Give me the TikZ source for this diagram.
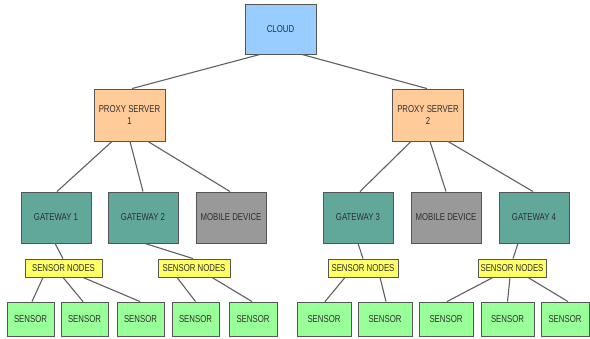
\documentclass[tikz,border=0pt]{standalone}
\usepackage{fontspec}
\newfontfamily\lblfont[FakeStretch=0.78]{Liberation Sans}
\definecolor{cloudc}{HTML}{99CCFF}
\definecolor{proxyc}{HTML}{FFCC99}
\definecolor{gatec}{HTML}{62A89A}
\definecolor{mobilec}{HTML}{999999}
\definecolor{snodec}{HTML}{FFFF66}
\definecolor{sensorc}{HTML}{99FF99}
\definecolor{edgec}{HTML}{555555}
\definecolor{linkc}{HTML}{606060}
\definecolor{txtc}{HTML}{2E2E2E}
\tikzset{
  box/.style={draw=edgec, line width=0.9pt, inner sep=0pt, align=center,
    font=\lblfont\fontsize{10}{11.5}\selectfont, text=txtc},
  cloudbox/.style={box, fill=cloudc, minimum width=71pt, minimum height=50pt},
  proxybox/.style={box, fill=proxyc, minimum width=71pt, minimum height=52pt},
  gatebox/.style={box, fill=gatec, minimum width=70pt, minimum height=51pt},
  mobilebox/.style={box, fill=mobilec, minimum width=70pt, minimum height=51pt},
  snodebox/.style={box, fill=snodec, minimum height=18pt},
  sensorbox/.style={box, fill=sensorc, minimum height=34pt},
  link/.style={draw=linkc, line width=1.1pt},
}
\begin{document}
\begin{tikzpicture}[x=1pt, y=-1pt]
\useasboundingbox (0,0) rectangle (590,338);
% top level
\node[cloudbox] (cloud) at (280.5,29) {CLOUD};
% proxy servers
\node[proxybox] (p1) at (129.5,115) {PROXY SERVER\\1};
\node[proxybox] (p2) at (428,115) {PROXY SERVER\\2};
% gateways and mobile devices
\node[gatebox] (g1) at (56,217.5) {GATEWAY 1};
\node[gatebox] (g2) at (143,217.5) {GATEWAY 2};
\node[mobilebox] (m1) at (231,217.5) {MOBILE DEVICE};
\node[gatebox] (g3) at (358,217.5) {GATEWAY 3};
\node[mobilebox] (m2) at (446,217.5) {MOBILE DEVICE};
\node[gatebox] (g4) at (534,217.5) {GATEWAY 4};
% sensor node groups
\node[snodebox, minimum width=77pt] (n1) at (63.5,268) {SENSOR NODES};
\node[snodebox, minimum width=72pt] (n2) at (194,268) {SENSOR NODES};
\node[snodebox, minimum width=70pt] (n3) at (363,268) {SENSOR NODES};
\node[snodebox, minimum width=68pt] (n4) at (512,268) {SENSOR NODES};
% sensors
\node[sensorbox, minimum width=47pt] (s1) at (30.5,319) {SENSOR};
\node[sensorbox, minimum width=47pt] (s2) at (84.5,319) {SENSOR};
\node[sensorbox, minimum width=47pt] (s3) at (140.5,319) {SENSOR};
\node[sensorbox, minimum width=47pt] (s4) at (195.5,319) {SENSOR};
\node[sensorbox, minimum width=48pt] (s5) at (253,319) {SENSOR};
\node[sensorbox, minimum width=54pt] (s6) at (324,319) {SENSOR};
\node[sensorbox, minimum width=54pt] (s7) at (385,319) {SENSOR};
\node[sensorbox, minimum width=54pt] (s8) at (446,319) {SENSOR};
\node[sensorbox, minimum width=53pt] (s9) at (507.5,319) {SENSOR};
\node[sensorbox, minimum width=48pt] (s10) at (565,319) {SENSOR};
% connectors
\draw[link] ([xshift=-20.5pt]cloud.south) -- ([xshift=2.5pt]p1.north);
\draw[link] ([xshift=21.5pt]cloud.south) -- ([xshift=-1pt]p2.north);
\draw[link] ([xshift=-17.5pt]p1.south) -- ([xshift=1pt]g1.north);
\draw[link] ([xshift=0.5pt]p1.south) -- (g2.north);
\draw[link] ([xshift=18.5pt]p1.south) -- ([xshift=-1pt]m1.north);
\draw[link] ([xshift=-17pt]p2.south) -- ([xshift=2pt]g3.north);
\draw[link] ([xshift=2pt]p2.south) -- (m2.north);
\draw[link] ([xshift=20pt]p2.south) -- ([xshift=-1pt]g4.north);
\draw[link] ([xshift=-1pt]g1.south) -- ([xshift=-0.5pt]n1.north);
\draw[link] ([xshift=2pt]g2.south) -- ([xshift=-1pt]n2.north);
\draw[link] (g3.south) -- (n3.north);
\draw[link] ([xshift=-16pt]g4.south) -- ([xshift=1pt]n4.north);
\draw[link] ([xshift=-20.5pt]n1.south) -- ([xshift=1.5pt]s1.north);
\draw[link] ([xshift=-0.5pt]n1.south) -- ([xshift=-1.5pt]s2.north);
\draw[link] ([xshift=19.5pt]n1.south) -- ([xshift=-0.5pt]s3.north);
\draw[link] ([xshift=-17pt]n2.south) -- (s4.north);
\draw[link] ([xshift=18pt]n2.south) -- ([xshift=-1pt]s5.north);
\draw[link] ([xshift=-18pt]n3.south) -- ([xshift=1pt]s6.north);
\draw[link] ([xshift=17pt]n3.south) -- ([xshift=1pt]s7.north);
\draw[link] ([xshift=-19pt]n4.south) -- ([xshift=1pt]s8.north);
\draw[link] ([xshift=-2pt]n4.south) -- (s9.north);
\draw[link] ([xshift=16pt]n4.south) -- ([xshift=3pt]s10.north);
\end{tikzpicture}
\end{document}
